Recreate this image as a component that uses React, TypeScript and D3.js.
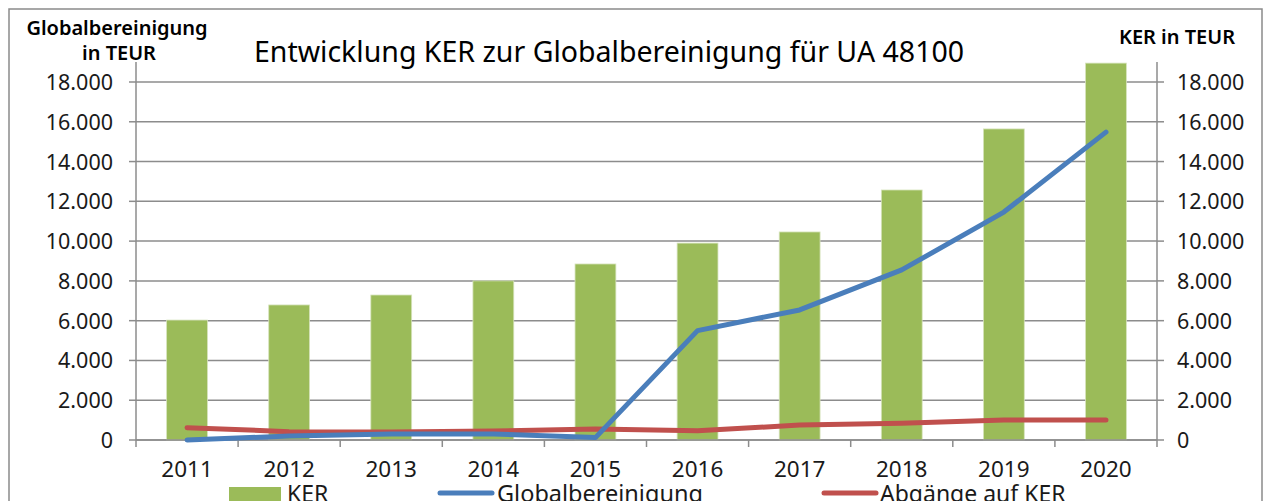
import React from "react";
import * as d3 from "d3";

const years = ["2011", "2012", "2013", "2014", "2015", "2016", "2017", "2018", "2019", "2020"];
const kerValues = [6030, 6790, 7290, 8000, 8850, 9900, 10460, 12570, 15640, 18950];
const globalValues = [0, 200, 300, 300, 120, 5500, 6540, 8550, 11460, 15480];
const abgaengeValues = [620, 420, 400, 450, 550, 470, 750, 840, 1000, 1000];
const yTicks = [0, 2000, 4000, 6000, 8000, 10000, 12000, 14000, 16000, 18000];

const W = 1266;
const H = 501;
const left = 136;
const right = 1157;
const yBottom = 440;
const yMax = 19000;
const yTopPx = yBottom - (yMax * 358) / 18000;

const FONT = "'Noto Sans', 'Open Sans', sans-serif";
const GRID = "#8c8c8c";

const fmt = (v: number) => d3.format(",")(v).replace(/,/g, ".");

export default function App() {
  const x = d3.scaleBand<string>().domain(years).range([left, right]).padding(0);
  const y = d3.scaleLinear().domain([0, yMax]).range([yBottom, yTopPx]);
  const bw = x.bandwidth() * 0.4;
  const cx = (yr: string) => (x(yr) as number) + x.bandwidth() / 2;

  const line = d3
    .line<number>()
    .x((_, i) => cx(years[i]))
    .y((v) => y(v));

  const boundaries = years.map((yr) => x(yr) as number).concat([right]);

  return (
    <svg width={W} height={H} style={{ position: "absolute", left: 0, top: 0, display: "block" }}>
      <rect x={0} y={0} width={W} height={H} fill="#ffffff" />
      <rect x={9} y={9} width={1253} height={520} fill="#ffffff" stroke="#8a8a8a" strokeWidth={1.5} />

      {/* gridlines */}
      {yTicks.map((t) => (
        <line key={"g" + t} x1={left} x2={right} y1={y(t)} y2={y(t)} stroke={GRID} strokeWidth={1.5} />
      ))}

      {/* bars */}
      {years.map((yr, i) => (
        <rect
          key={"b" + yr}
          x={cx(yr) - bw / 2}
          y={y(kerValues[i])}
          width={bw}
          height={yBottom - y(kerValues[i])}
          fill="#9BBB59"
          stroke="#d6e3bc"
          strokeWidth={0.8}
        />
      ))}

      {/* axes */}
      <line x1={left} x2={left} y1={yTopPx} y2={yBottom} stroke={GRID} strokeWidth={1.5} />
      <line x1={right} x2={right} y1={yTopPx} y2={yBottom} stroke={GRID} strokeWidth={1.5} />
      <line x1={left} x2={right} y1={yBottom} y2={yBottom} stroke={GRID} strokeWidth={1.5} />
      {yTicks.map((t) => (
        <g key={"t" + t}>
          <line x1={left - 7} x2={left} y1={y(t)} y2={y(t)} stroke={GRID} strokeWidth={1.5} />
          <line x1={right} x2={right + 7} y1={y(t)} y2={y(t)} stroke={GRID} strokeWidth={1.5} />
          <text x={113} y={y(t) + 8} textAnchor="end" fontFamily={FONT} fontSize={21.5} fill="#1a1a1a">
            {fmt(t)}
          </text>
          <text x={1177} y={y(t) + 8} textAnchor="start" fontFamily={FONT} fontSize={21.5} fill="#1a1a1a">
            {fmt(t)}
          </text>
        </g>
      ))}
      {boundaries.map((b, i) => (
        <line key={"xt" + i} x1={b} x2={b} y1={yBottom} y2={yBottom + 7} stroke={GRID} strokeWidth={1.5} />
      ))}
      {years.map((yr) => (
        <text key={"xl" + yr} x={cx(yr)} y={476.5} textAnchor="middle" fontFamily={FONT} fontSize={22.5} fill="#1a1a1a">
          {yr}
        </text>
      ))}

      {/* lines */}
      <path d={line(abgaengeValues) || ""} fill="none" stroke="#C0504D" strokeWidth={5} strokeLinecap="round" strokeLinejoin="round" />
      <path d={line(globalValues) || ""} fill="none" stroke="#4A7EBB" strokeWidth={5} strokeLinecap="round" strokeLinejoin="round" />

      {/* title */}
      <text x={609} y={61.5} textAnchor="middle" fontFamily={FONT} fontSize={28.5} fill="#000">
        Entwicklung KER zur Globalbereinigung für UA 48100
      </text>

      {/* axis titles */}
      <text x={117} y={35} textAnchor="middle" fontFamily={FONT} fontSize={20} fontWeight={600} fill="#000">
        Globalbereinigung
      </text>
      <text x={119} y={60} textAnchor="middle" fontFamily={FONT} fontSize={20} fontWeight={600} fill="#000">
        in TEUR
      </text>
      <text x={1177} y={43.5} textAnchor="middle" fontFamily={FONT} fontSize={20} fontWeight={600} fill="#000">
        KER in TEUR
      </text>

      {/* legend */}
      <rect x={229} y={487} width={52} height={18} fill="#9BBB59" />
      <text x={287} y={502} fontFamily={FONT} fontSize={23} fill="#1a1a1a">KER</text>
      <line x1={440} x2={492} y1={493} y2={493} stroke="#4A7EBB" strokeWidth={5} strokeLinecap="round" />
      <text x={497} y={502} fontFamily={FONT} fontSize={23.5} fill="#1a1a1a">Globalbereinigung</text>
      <line x1={824} x2={876} y1={493} y2={493} stroke="#C0504D" strokeWidth={5} strokeLinecap="round" />
      <text x={880} y={502} fontFamily={FONT} fontSize={23} fill="#1a1a1a">Abgänge auf KER</text>
    </svg>
  );
}
